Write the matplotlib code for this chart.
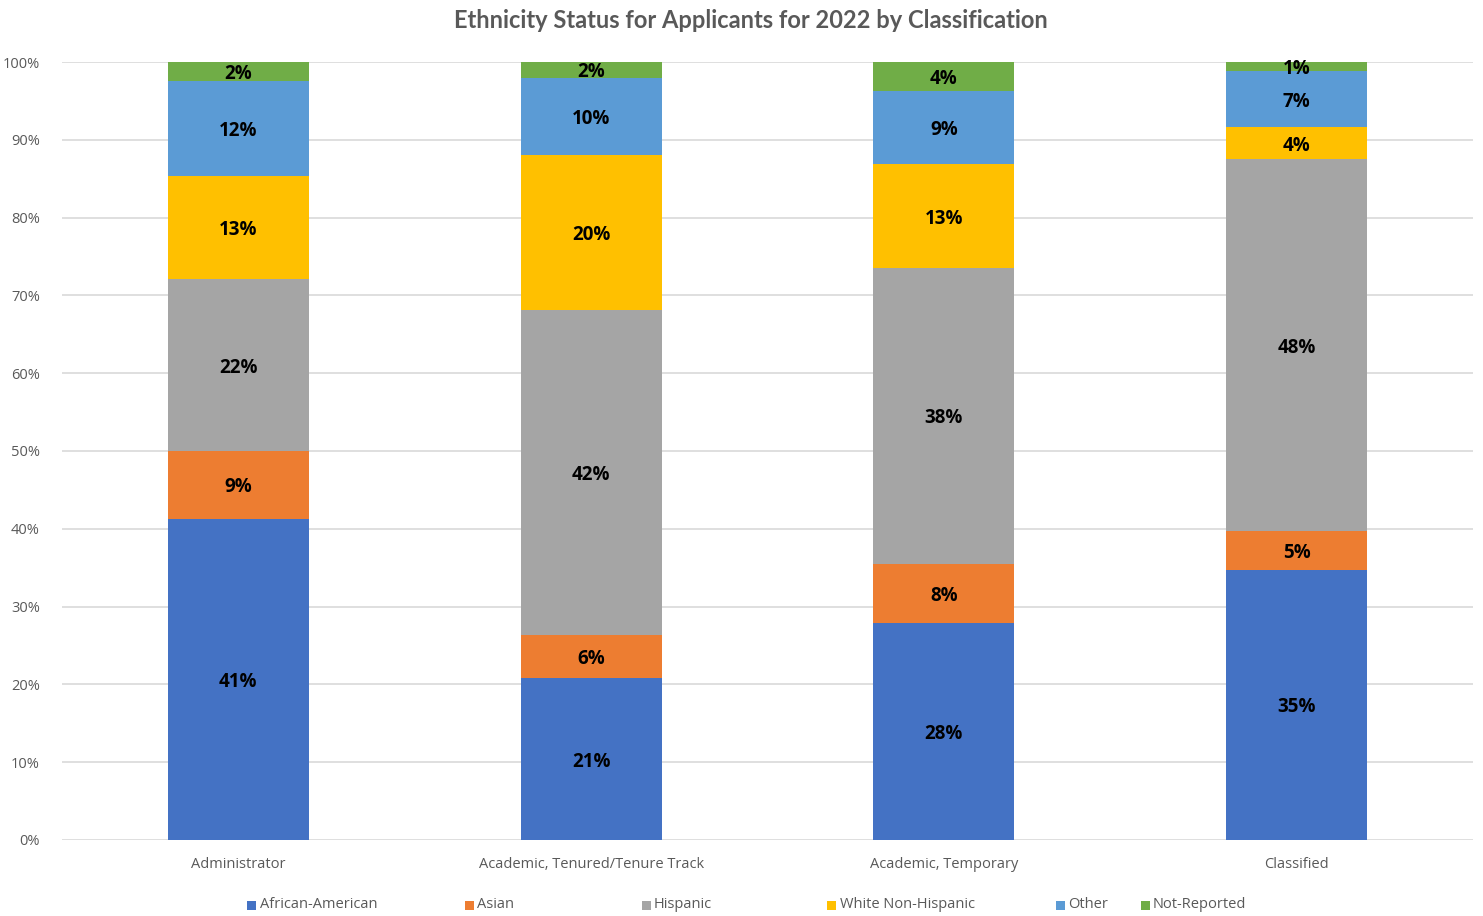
import numpy as np
import matplotlib.pyplot as plt
from matplotlib.patches import Rectangle

# percentage of applicants per ethnicity, one entry per classification
classifications = ["Administrator", "Academic, Tenured/Tenure Track",
                   "Academic, Temporary", "Classified"]
african_american = [41.3, 20.8, 27.9, 34.7]
asian = [8.7, 5.6, 7.6, 5.0]
hispanic = [22.1, 41.7, 38.0, 47.8]
white_non_hispanic = [13.2, 20.0, 13.4, 4.1]
other = [12.3, 9.9, 9.4, 7.2]
not_reported = [2.4, 2.0, 3.7, 1.2]

series_names = ["African-American", "Asian", "Hispanic",
                "White Non-Hispanic", "Other", "Not-Reported"]
series_values = [african_american, asian, hispanic,
                 white_non_hispanic, other, not_reported]
colors = ["#4472C4", "#ED7D31", "#A5A5A5", "#FFC000", "#5B9BD5", "#70AD47"]

grey_text = "#595959"
label_font = "Open Sans"

fig = plt.figure(figsize=(14.83, 9.16), dpi=100)
ax = fig.add_axes([0.0418, 0.0830, 0.9515, 0.8493])

x = np.arange(len(classifications))
bottom = np.zeros(len(classifications))
for name, vals, col in zip(series_names, series_values, colors):
    vals = np.array(vals)
    ax.bar(x, vals, 0.4, bottom=bottom, color=col, label=name, zorder=3)
    for xi, b, v in zip(x, bottom, vals):
        ax.text(xi, b + v / 2, f"{v:.0f}%", ha="center", va="center_baseline",
                fontsize=13.5, fontweight="bold", color="black",
                family=label_font, zorder=4)
    bottom += vals

ax.set_xlim(-0.5, len(classifications) - 0.5)
ax.set_ylim(0, 100)
ax.set_yticks(np.arange(0, 101, 10))
ax.set_yticklabels([f"{t}%" for t in range(0, 101, 10)])
ax.set_xticks(x)
ax.set_xticklabels(classifications)
ax.tick_params(axis="both", length=0, labelsize=10.5, labelcolor=grey_text)
ax.tick_params(axis="y", pad=16)
ax.tick_params(axis="x", pad=12)
for lab in ax.get_xticklabels() + ax.get_yticklabels():
    lab.set_family(label_font)

ax.grid(axis="y", color="#D9D9D9", linewidth=1.2, zorder=0)
for side in ["top", "right", "left", "bottom"]:
    ax.spines[side].set_visible(False)

fig.text(0.506, 0.978, "Ethnicity Status for Applicants for 2022 by Classification",
         ha="center", va="center", fontsize=17, color=grey_text,
         family="Lato", fontweight="bold")

# legend row along the bottom
legend_x = [252, 469, 646, 832, 1060, 1145]
legend_y = 1 - 905 / 916
sq_w, sq_h = 9 / 1483, 9 / 916
for lx, name, col in zip(legend_x, series_names, colors):
    fx = lx / 1483
    fig.patches.append(Rectangle((fx - sq_w / 2, legend_y - sq_h / 2), sq_w, sq_h,
                                 facecolor=col, edgecolor="none",
                                 transform=fig.transFigure, figure=fig))
    fig.text(fx + 8 / 1483, legend_y, name, ha="left", va="center",
             fontsize=10.5, color=grey_text, family=label_font)

fig.savefig("out.png", dpi=100, facecolor="white")
